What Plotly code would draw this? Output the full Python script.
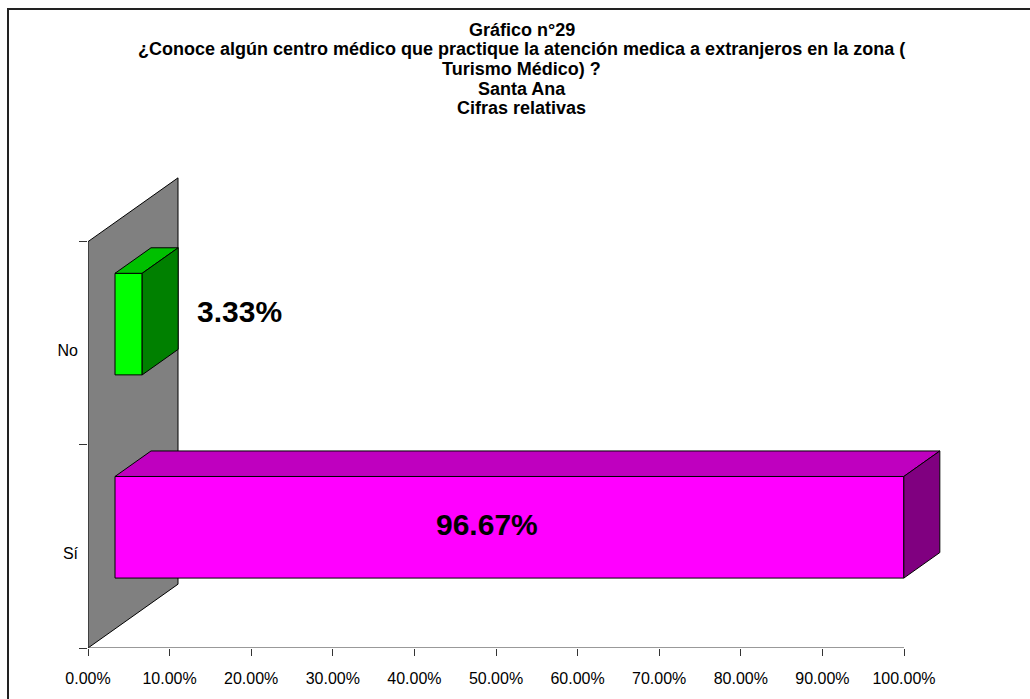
import plotly.graph_objects as go

# Survey answers (relative figures, %)
categories = ["Sí", "No"]
values = [96.67, 3.33]
value_labels = ["96.67%", "3.33%"]

x_ticks = [0, 10, 20, 30, 40, 50, 60, 70, 80, 90, 100]
x_tick_labels = ["0.00%", "10.00%", "20.00%", "30.00%", "40.00%", "50.00%",
                 "60.00%", "70.00%", "80.00%", "90.00%", "100.00%"]

title_lines = [
    "Gráfico n°29",
    "¿Conoce algún centro médico que practique la atención medica a extranjeros en la zona (",
    "Turismo Médico) ?",
    "Santa Ana",
    "Cifras relativas",
]

front_colors = ["#FF00FF", "#00FF00"]
top_colors = ["#BF00BF", "#00C000"]
side_colors = ["#800080", "#008000"]

# ---- layout geometry -------------------------------------------------------
W, H = 1030, 699
ML, MR, MT, MB = 88, 40, 170, 42
PW, PH = W - ML - MR, H - MT - MB
PX_PER_X = 8.16          # pixels per percentage point
PX_PER_Y = 207.0         # pixels per category band
X_MAX = PW / PX_PER_X
Y_MAX = PH / PX_PER_Y

# 3-D depth of the chart (oblique projection), expressed in pixels
DEPTH_DX, DEPTH_DY = 90.0, 65.0
DX = DEPTH_DX / PX_PER_X
DY = DEPTH_DY / PX_PER_Y
BAR_FRONT, BAR_BACK = 0.3, 0.7   # bar position within the depth
BAR_LO, BAR_HI = 0.25, 0.75      # bar thickness within its band
LABEL_DROP = 7 / PX_PER_Y        # category labels sit slightly below band centre

FONT = "Liberation Sans, Arial, sans-serif"


def px_to_paper_x(px):
    return (px - ML) / PW


def px_to_paper_y(py):
    return (H - MB - py) / PH


def face(xs, ys, color):
    return go.Scatter(
        x=xs + [xs[0]], y=ys + [ys[0]], mode="lines", fill="toself",
        fillcolor=color, line=dict(color="black", width=1),
        hoverinfo="skip", showlegend=False,
    )


fig = go.Figure()

# back wall behind the categories
n_cat = len(categories)
fig.add_trace(face([0, 0, DX, DX], [0, n_cat, n_cat + DY, DY], "#808080"))

# 3-D bars: front, top and right-hand faces
for i, v in enumerate(values):
    fx0, fx1 = BAR_FRONT * DX, v + BAR_FRONT * DX
    bx0, bx1 = BAR_BACK * DX, v + BAR_BACK * DX
    fy0, fy1 = i + BAR_LO + BAR_FRONT * DY, i + BAR_HI + BAR_FRONT * DY
    by0, by1 = i + BAR_LO + BAR_BACK * DY, i + BAR_HI + BAR_BACK * DY
    fig.add_trace(face([fx0, fx1, fx1, fx0], [fy0, fy0, fy1, fy1], front_colors[i]))
    fig.add_trace(face([fx0, fx1, bx1, bx0], [fy1, fy1, by1, by1], top_colors[i]))
    fig.add_trace(face([fx1, bx1, bx1, fx1], [fy0, by0, by1, fy1], side_colors[i]))

# value labels
annotations = [
    dict(x=values[0] / 2, y=0.5, text=f"<b>{value_labels[0]}</b>",
         xref="x", yref="y", showarrow=False, xshift=5, yshift=22,
         font=dict(family=FONT, size=30, color="black")),
    dict(x=values[1], y=1.5, text=f"<b>{value_labels[1]}</b>",
         xref="x", yref="y", showarrow=False, xanchor="left", xshift=80, yshift=32,
         font=dict(family=FONT, size=30, color="black")),
]

# title, one annotation per line
title_y = [27, 47, 67, 87, 107]
for line, py in zip(title_lines, title_y):
    annotations.append(dict(
        x=px_to_paper_x(521.5), y=px_to_paper_y(py), xref="paper", yref="paper",
        text=f"<b>{line}</b>", showarrow=False, xanchor="center", yanchor="middle",
        font=dict(family=FONT, size=18, color="black"),
    ))

shapes = [
    # value axis line
    dict(type="line", xref="x", yref="y", x0=0, x1=100, y0=0, y1=0,
         line=dict(color="#333333", width=1)),
    # chart frame
    dict(type="rect", xref="paper", yref="paper",
         x0=px_to_paper_x(8), x1=px_to_paper_x(W + 20),
         y0=px_to_paper_y(H + 20), y1=px_to_paper_y(6),
         line=dict(color="#222222", width=2), fillcolor="rgba(0,0,0,0)", layer="below"),
]

fig.update_layout(
    width=W, height=H,
    margin=dict(l=ML, r=MR, t=MT, b=MB),
    paper_bgcolor="white", plot_bgcolor="white",
    font=dict(family=FONT, size=16, color="black"),
    annotations=annotations,
    shapes=shapes,
    showlegend=False,
)

fig.update_xaxes(
    range=[0, X_MAX], showgrid=False, zeroline=False, showline=False,
    tickvals=x_ticks, ticktext=x_tick_labels,
    ticks="outside", ticklen=7, tickcolor="#333333", tickwidth=1,
    ticklabelstandoff=9, tickfont=dict(family=FONT, size=16, color="black"),
)

fig.update_yaxes(
    range=[0, Y_MAX], showgrid=False, zeroline=False, showline=False,
    tickvals=[i + 0.5 - LABEL_DROP for i in range(n_cat)], ticktext=categories,
    ticks="", ticklabelstandoff=9,
    tickfont=dict(family=FONT, size=16, color="black"),
    minor=dict(tickvals=list(range(n_cat + 1)), ticks="outside", ticklen=8,
               tickcolor="#333333", tickwidth=1, showgrid=False),
)

fig.write_html("out.html")
